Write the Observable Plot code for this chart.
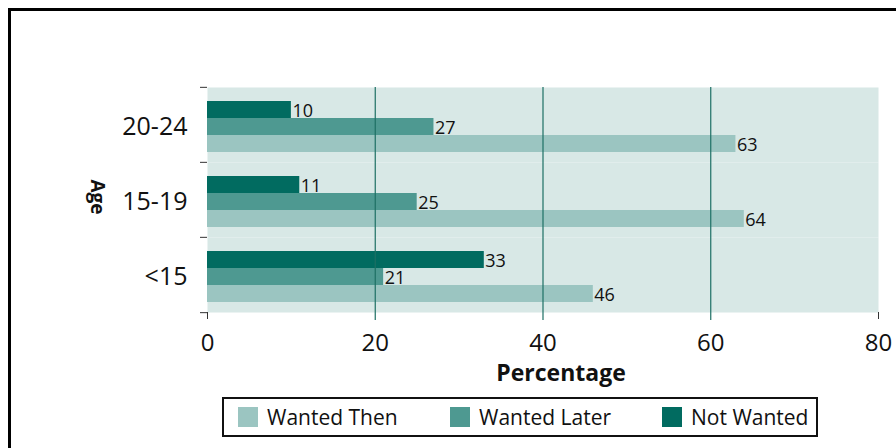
<!DOCTYPE html>
<html>
<head>
<meta charset="utf-8">
<script src="https://cdn.jsdelivr.net/npm/d3@7"></script>
<script src="https://cdn.jsdelivr.net/npm/@observablehq/plot@0.6"></script>
<style>
  body { margin: 0; background: #fff; }
  #wrap { position: relative; width: 896px; height: 448px; overflow: hidden; background: #fff; font-family: "Open Sans", sans-serif; color: #111; }
  #frame { position: absolute; left: 8px; top: 8px; width: 1000px; height: 1000px; border: 3px solid #000; box-sizing: border-box; }
  #chart { position: absolute; left: 0; top: 0; }
  #xlabel { position: absolute; left: 561px; top: 361px; transform: translateX(-50%); font-weight: 700; font-size: 23px; line-height: 1; white-space: nowrap; }
  #ylabel { position: absolute; left: 97px; top: 197px; transform: translate(-50%, -50%) rotate(90deg); font-weight: 700; font-size: 19px; line-height: 1; white-space: nowrap; }
  #legend { position: absolute; left: 222px; top: 397px; width: 596px; height: 40px; border: 2px solid #111; box-sizing: border-box; display: flex; align-items: center; padding-left: 14px; overflow: visible; }
  .item { width: 212px; flex: none; display: flex; align-items: center; }
  .item:last-child { width: auto; }
  .sw { width: 20px; height: 20px; margin-right: 9px; flex: none; }
  .lt { font-size: 21px; line-height: 1; white-space: nowrap; }
</style>
</head>
<body>
<div id="wrap">
  <div id="frame"></div>
  <div id="chart"></div>
  <div id="xlabel"></div>
  <div id="ylabel"></div>
  <div id="legend"></div>
</div>
<script>
// ---- data ----
const ages = ["20-24", "15-19", "<15"];
const series = ["Not Wanted", "Wanted Later", "Wanted Then"];
const notWanted = [10, 11, 33];
const wantedLater = [27, 25, 21];
const wantedThen = [63, 64, 46];
const xTicks = [0, 20, 40, 60, 80];
const gridValues = [20, 40, 60];
const edgeTicks = [0, 80];
const seriesColors = ["#016b60", "#4e9991", "#9bc5c1"];
const legendOrder = ["Wanted Then", "Wanted Later", "Not Wanted"];
const xTitle = "Percentage";
const yTitle = "Age";

// ---- table ----
const valuesBySeries = {"Not Wanted": notWanted, "Wanted Later": wantedLater, "Wanted Then": wantedThen};
const data = ages.flatMap((age, i) => series.map(s => ({age, series: s, value: valuesBySeries[s][i]})));

// ---- layout ----
const W = 896, H = 448, mt = 86, mb = 136, ml = 207, mr = 18;
const step = (H - mt - mb) / ages.length;
const gridColor = "#1d6f64";
const bgColor = "#d8e8e6";

const chart = Plot.plot({
  width: W, height: H,
  marginTop: mt, marginBottom: mb, marginLeft: ml, marginRight: mr,
  style: {fontFamily: "Open Sans, sans-serif", color: "#111", background: "transparent", overflow: "visible"},
  x: {domain: [0, 80]},
  y: {domain: series, axis: null, paddingInner: 0, paddingOuter: 0.67, align: 0.6},
  fy: {domain: ages, padding: 0},
  color: {domain: series, range: seriesColors},
  marks: [
    Plot.frame({fill: bgColor, stroke: "none"}),
    Plot.barX(data, {x: "value", y: "series", fy: "age", fill: "series"}),
    Plot.ruleX(gridValues, {stroke: gridColor, strokeWidth: 1.2}),
    Plot.text(data, {x: "value", y: "series", fy: "age", text: d => String(d.value), textAnchor: "start", dx: 1, dy: 1, fontSize: 18, fill: "#111"}),
    // x axis: labels, teal grid ticks, dark edge ticks
    Plot.axisX({ticks: xTicks, tickSize: 0, tickPadding: 21, fontSize: 24, label: null, fill: "#111"}),
    Plot.axisX({ticks: gridValues, tickSize: 8, stroke: gridColor, strokeWidth: 1.2, fill: "none", label: null}),
    Plot.axisX({ticks: edgeTicks, tickSize: 7, stroke: "#333", fill: "none", label: null}),
    // fy axis: labels, and ticks at group boundaries
    Plot.axisFy({anchor: "left", tickSize: 0, tickPadding: 20, fontSize: 25, label: null, fill: "#111", dy: 2}),
    Plot.axisFy({anchor: "left", tickSize: 7, stroke: "#333", fill: "none", label: null, dy: -step / 2}),
    Plot.axisFy({anchor: "left", ticks: [ages[ages.length - 1]], tickSize: 7, stroke: "#333", fill: "none", label: null, dy: step / 2})
  ]
});
document.getElementById("chart").appendChild(chart);

document.getElementById("xlabel").textContent = xTitle;
document.getElementById("ylabel").textContent = yTitle;

const legend = document.getElementById("legend");
legendOrder.forEach(name => {
  const item = document.createElement("div");
  item.className = "item";
  const sw = document.createElement("div");
  sw.className = "sw";
  sw.style.background = seriesColors[series.indexOf(name)];
  const t = document.createElement("span");
  t.className = "lt";
  t.textContent = name;
  item.appendChild(sw);
  item.appendChild(t);
  legend.appendChild(item);
});
</script>
</body>
</html>
